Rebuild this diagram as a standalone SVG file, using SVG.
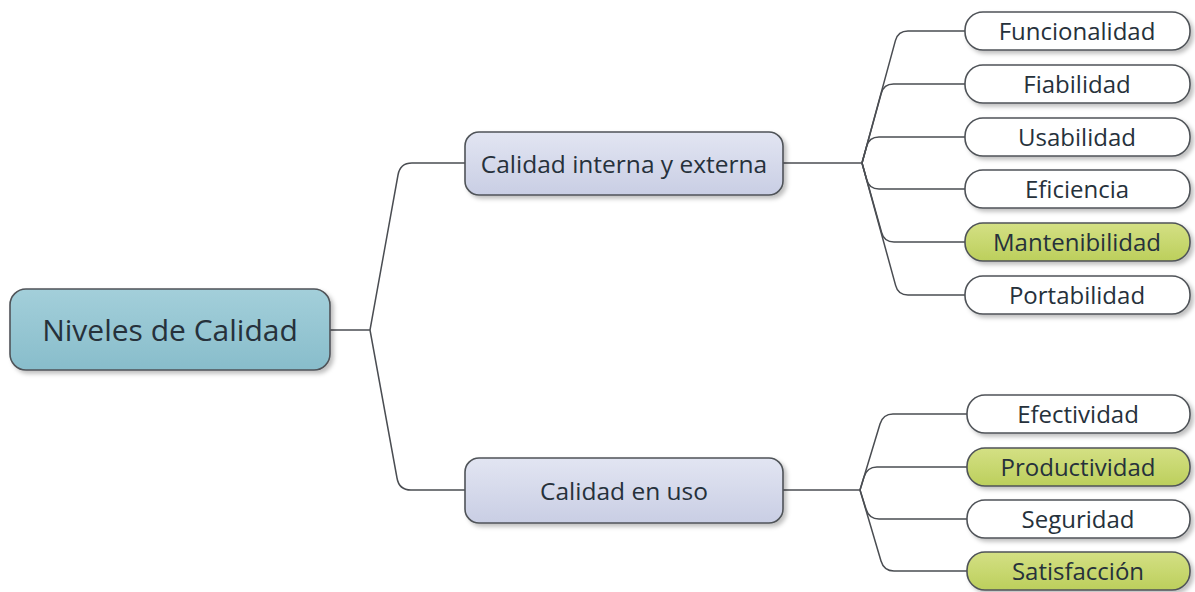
<svg xmlns="http://www.w3.org/2000/svg" width="1195" height="592" viewBox="0 0 1195 592">
<defs>
<linearGradient id="gRoot" x1="0" y1="0" x2="0" y2="1"><stop offset="0" stop-color="#a3cfda"/><stop offset="1" stop-color="#88bdcb"/></linearGradient>
<linearGradient id="gMid" x1="0" y1="0" x2="0" y2="1"><stop offset="0" stop-color="#e2e5f2"/><stop offset="1" stop-color="#c9cee4"/></linearGradient>
<linearGradient id="gGreen" x1="0" y1="0" x2="0" y2="1"><stop offset="0" stop-color="#d4e084"/><stop offset="1" stop-color="#bccf5c"/></linearGradient>
<filter id="sh" x="-10%" y="-20%" width="130%" height="160%"><feDropShadow dx="3" dy="3" stdDeviation="2" flood-color="#000" flood-opacity="0.25"/></filter>
</defs>
<style>
.box{stroke:#4f5358;stroke-width:1.6;filter:url(#sh)}
.root{fill:url(#gRoot)}
.mid{fill:url(#gMid)}
.leaf{fill:#ffffff}
.hl{fill:url(#gGreen)}
text{font-family:"Open Sans","Liberation Sans",sans-serif;fill:#26313b;text-anchor:middle;dominant-baseline:central}
.t-root{font-size:30px}
.t-mid{font-size:24.5px}
.t-leaf{font-size:24px}
.conn path{fill:none;stroke:#4a4d52;stroke-width:1.5}
</style>
<rect width="1195" height="592" fill="#ffffff"/>
<g id="connectors" class="conn">
<path d="M330,330 L370,330"/>
<path d="M370,330 L398,175 Q400,163 412,163 L465,163"/>
<path d="M370,330 L397,478 Q399,490 411,490 L465,490"/>
<path d="M783,163 L862,163"/>
<path d="M862,163 L895.4,40.6 Q898,31 908,31 L965,31"/>
<path d="M862,163 L881.2,93.6 Q883.5,84 893.5,84 L965,84"/>
<path d="M862,163 L866.6,146.6 Q869,137 879,137 L965,137"/>
<path d="M862,163 L866.6,179.4 Q869,189 879,189 L965,189"/>
<path d="M862,163 L881.6,232.4 Q884,242 894,242 L965,242"/>
<path d="M862,163 L895.6,285.4 Q898,295 908,295 L965,295"/>
<path d="M783,490 L860,490"/>
<path d="M860,490 L880,424 Q883,414 893,414 L967,414"/>
<path d="M860,490 L864,477 Q867,467 877,467 L967,467"/>
<path d="M860,490 L866,509 Q869,519 879,519 L967,519"/>
<path d="M860,490 L881,561 Q884,571 894,571 L967,571"/>
</g>
<g id="n-root"><rect class="box root" x="10" y="289" width="320" height="81" rx="16"/><text class="t-root" x="170" y="329">Niveles de Calidad</text></g>
<g id="n-interna"><rect class="box mid" x="465" y="132" width="318" height="63" rx="14"/><text class="t-mid" x="624" y="163">Calidad interna y externa</text></g>
<g id="n-uso"><rect class="box mid" x="465" y="458" width="318" height="65" rx="14"/><text class="t-mid" x="624" y="490">Calidad en uso</text></g>
<g id="n-funcionalidad"><rect class="box leaf" x="965" y="12" width="225" height="38" rx="18"/><text class="t-leaf" x="1077" y="30">Funcionalidad</text></g>
<g id="n-fiabilidad"><rect class="box leaf" x="965" y="65" width="225" height="38" rx="18"/><text class="t-leaf" x="1077" y="83">Fiabilidad</text></g>
<g id="n-usabilidad"><rect class="box leaf" x="965" y="118" width="225" height="38" rx="18"/><text class="t-leaf" x="1077" y="136">Usabilidad</text></g>
<g id="n-eficiencia"><rect class="box leaf" x="965" y="170" width="225" height="38" rx="18"/><text class="t-leaf" x="1077" y="188">Eficiencia</text></g>
<g id="n-mantenibilidad"><rect class="box hl" x="965" y="223" width="225" height="38" rx="18"/><text class="t-leaf" x="1077" y="241">Mantenibilidad</text></g>
<g id="n-portabilidad"><rect class="box leaf" x="965" y="276" width="225" height="38" rx="18"/><text class="t-leaf" x="1077" y="294">Portabilidad</text></g>
<g id="n-efectividad"><rect class="box leaf" x="967" y="395" width="223" height="38" rx="18"/><text class="t-leaf" x="1078" y="413">Efectividad</text></g>
<g id="n-productividad"><rect class="box hl" x="967" y="448" width="223" height="38" rx="18"/><text class="t-leaf" x="1078" y="466">Productividad</text></g>
<g id="n-seguridad"><rect class="box leaf" x="967" y="500" width="223" height="38" rx="18"/><text class="t-leaf" x="1078" y="518">Seguridad</text></g>
<g id="n-satisfaccion"><rect class="box hl" x="967" y="552" width="223" height="38" rx="18"/><text class="t-leaf" x="1078" y="570">Satisfacción</text></g>
</svg>
